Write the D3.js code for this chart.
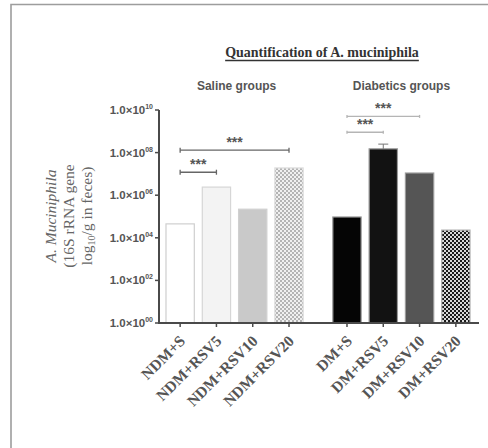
<!DOCTYPE html>
<html>
<head>
<title>Quantification of A. muciniphila</title>
<script src="https://d3js.org/d3.v7.min.js"></script>
<style>
body { margin: 0; background: #fff; }
svg { display: block; }
</style>
</head>
<body>
<svg width="488" height="448"></svg>
<script>
var groups = ["Saline groups", "Diabetics groups"];
var categories = [
  ["NDM+S", "NDM+RSV5", "NDM+RSV10", "NDM+RSV20"],
  ["DM+S", "DM+RSV5", "DM+RSV10", "DM+RSV20"]];
var values = [
  [4.5e4, 2.4e6, 2.2e5, 1.9e7],
  [9.5e4, 1.5e8, 1.1e7, 2.3e4]];
var errors = [
  [0, 0, 0, 0],
  [0, 1.0e8, 0, 0]];
var tickExponents = ["00", "02", "04", "06", "08", "10"];
var tickValues = [1e0, 1e2, 1e4, 1e6, 1e8, 1e10];
// [group, from, to, height]
var comparisons = [
  [0, 0, 1, 1.2e7],
  [0, 0, 3, 1.3e8],
  [1, 0, 1, 9e8],
  [1, 0, 2, 5e9]];

var svg = d3.select("svg");
var fills = [
  ["#ffffff", "#f3f3f3", "#c9c9c9", "url(#checkLight)"],
  ["#050505", "#121212", "#555555", "url(#checkDark)"]];
var strokes = [
  ["#cfcfcf", "#d6d6d6", "#d0d0d0", "#dcdcdc"],
  ["#9a9a9a", "#9a9a9a", "#9a9a9a", "#b0b0b0"]];

// checker patterns
var defs = svg.append("defs");
function checker(id, a, b) {
  var p = defs.append("pattern")
      .attr("id", id)
      .attr("width", 4).attr("height", 4)
      .attr("patternUnits", "userSpaceOnUse");
  p.append("rect").attr("width", 4).attr("height", 4).attr("fill", b);
  p.append("rect").attr("width", 2).attr("height", 2).attr("fill", a);
  p.append("rect").attr("x", 2).attr("y", 2).attr("width", 2).attr("height", 2).attr("fill", a);
}
checker("checkLight", "#b4b4b4", "#f0f0f0");
checker("checkDark", "#1a1a1a", "#d8d8d8");

// frame
svg.append("path")
    .attr("d", "M11,448V4.5H488")
    .attr("fill", "none")
    .attr("stroke", "#9d9d9d")
    .attr("stroke-width", 1.6);

var y = d3.scaleLog().domain([1, 1e10]).range([323, 110]);
var xg = d3.scaleBand().domain([0, 1]).range([162, 474]).paddingInner(0.13);
var xb = d3.scaleBand().domain([0, 1, 2, 3]).range([0, xg.bandwidth()])
    .paddingInner(0.22).paddingOuter(0.11);

function cx(g, i) { return xg(g) + xb(i) + xb.bandwidth() / 2; }

// bars
groups.forEach(function(name, g) {
  svg.append("g").selectAll("rect")
      .data(values[g])
    .enter().append("rect")
      .attr("x", function(d, i) { return xg(g) + xb(i); })
      .attr("y", function(d) { return y(d); })
      .attr("width", xb.bandwidth())
      .attr("height", function(d) { return y(1) - y(d); })
      .attr("fill", function(d, i) { return fills[g][i]; })
      .attr("stroke", function(d, i) { return strokes[g][i]; })
      .attr("stroke-width", 1.2);

  // error bars
  values[g].forEach(function(d, i) {
    if (!errors[g][i]) return;
    var x0 = cx(g, i), top = y(d + errors[g][i]);
    svg.append("path")
        .attr("d", "M" + x0 + "," + y(d) + "V" + top + "M" + (x0 - 5) + "," + top + "H" + (x0 + 5))
        .attr("stroke", "#777").attr("stroke-width", 1).attr("fill", "none");
  });

  svg.append("text")
      .attr("x", xg(g) + xb.step() * 2 + (g ? 0 : 2))
      .attr("y", 90)
      .attr("text-anchor", "middle")
      .attr("font-family", "Liberation Sans, Arial, sans-serif")
      .attr("font-weight", "bold")
      .attr("font-size", 12)
      .attr("fill", "#555")
      .text(name);
});

// y axis
var yAxis = svg.append("g");
yAxis.append("line")
    .attr("x1", 159).attr("x2", 159)
    .attr("y1", y(1e10)).attr("y2", y(1) + 1)
    .attr("stroke", "#4a4a4a").attr("stroke-width", 2);
var yt = yAxis.selectAll("g.tick")
    .data(tickValues)
  .enter().append("g")
    .attr("class", "tick")
    .attr("transform", function(d) { return "translate(0," + y(d) + ")"; });
yt.append("line")
    .attr("x1", 155).attr("x2", 159)
    .attr("stroke", "#4a4a4a").attr("stroke-width", 1.5);
var ylab = yt.append("text")
    .attr("x", 153)
    .attr("y", 4)
    .attr("text-anchor", "end")
    .attr("font-family", "Liberation Sans, Arial, sans-serif")
    .attr("font-weight", "bold")
    .attr("font-size", 11.5)
    .attr("fill", "#555");
ylab.append("tspan").text("1.0\u00d710");
ylab.append("tspan")
    .attr("dy", -5)
    .attr("font-size", 7)
    .text(function(d, i) { return tickExponents[i]; });

// x axis
svg.append("line")
    .attr("x1", 158).attr("x2", 479)
    .attr("y1", y(1)).attr("y2", y(1))
    .attr("stroke", "#4a4a4a").attr("stroke-width", 2);
groups.forEach(function(name, g) {
  categories[g].forEach(function(c, i) {
    var x0 = cx(g, i);
    svg.append("line")
        .attr("x1", x0).attr("x2", x0)
        .attr("y1", y(1)).attr("y2", y(1) + 4)
        .attr("stroke", "#4a4a4a").attr("stroke-width", 1.5);
    svg.append("text")
        .attr("transform", "translate(" + (x0 + 6) + "," + (y(1) + 19) + ") rotate(-45)")
        .attr("text-anchor", "end")
        .attr("font-family", "Liberation Serif, Times New Roman, serif")
        .attr("font-weight", "bold")
        .attr("font-size", 15.5)
        .attr("fill", "#555")
        .text(c);
  });
});

// significance brackets
comparisons.forEach(function(c) {
  var g = c[0], x1 = cx(g, c[1]), x2 = cx(g, c[2]), yy = y(c[3]);
  var col = g === 0 ? "#666" : "#b5b5b5";
  svg.append("line")
      .attr("x1", x1).attr("x2", x2)
      .attr("y1", yy).attr("y2", yy)
      .attr("stroke", col)
      .attr("stroke-width", 1.4);
  [x1, x2].forEach(function(xx) {
    svg.append("line")
        .attr("x1", xx).attr("x2", xx)
        .attr("y1", yy - (g ? 1.5 : 2.5)).attr("y2", yy + (g ? 1.5 : 2.5))
        .attr("stroke", col).attr("stroke-width", 1.3);
  });
  svg.append("text")
      .attr("x", (x1 + x2) / 2)
      .attr("y", yy - 3)
      .attr("text-anchor", "middle")
      .attr("font-family", "Liberation Sans, Arial, sans-serif")
      .attr("font-weight", "bold")
      .attr("font-size", 14)
      .attr("fill", "#555")
      .text("***");
});

// title
var title = svg.append("text")
    .attr("x", 322)
    .attr("y", 57)
    .attr("text-anchor", "middle")
    .attr("font-family", "Liberation Serif, Times New Roman, serif")
    .attr("font-weight", "bold")
    .attr("font-size", 14)
    .attr("fill", "#333")
    .text("Quantification of A. muciniphila");
var tb = title.node().getBBox();
svg.append("line")
    .attr("x1", tb.x).attr("x2", tb.x + tb.width)
    .attr("y1", 60.5).attr("y2", 60.5)
    .attr("stroke", "#333").attr("stroke-width", 1.3);

// y title
var yTitle = svg.append("text")
    .attr("transform", "translate(0,216) rotate(-90)")
    .attr("text-anchor", "middle")
    .attr("font-family", "Liberation Serif, Times New Roman, serif")
    .attr("font-size", 15.5)
    .attr("fill", "#666");
yTitle.append("tspan").attr("x", 0).attr("y", 56)
    .attr("font-style", "italic").text("A. Muciniphila");
yTitle.append("tspan").attr("x", 0).attr("y", 74).text("(16S rRNA gene");
var l3 = yTitle.append("tspan").attr("x", 0).attr("y", 92);
l3.append("tspan").text("log");
l3.append("tspan").attr("font-size", 10).attr("dy", 3).text("10");
l3.append("tspan").attr("dy", -3).text("/g in feces)");
</script>
</body>
</html>
